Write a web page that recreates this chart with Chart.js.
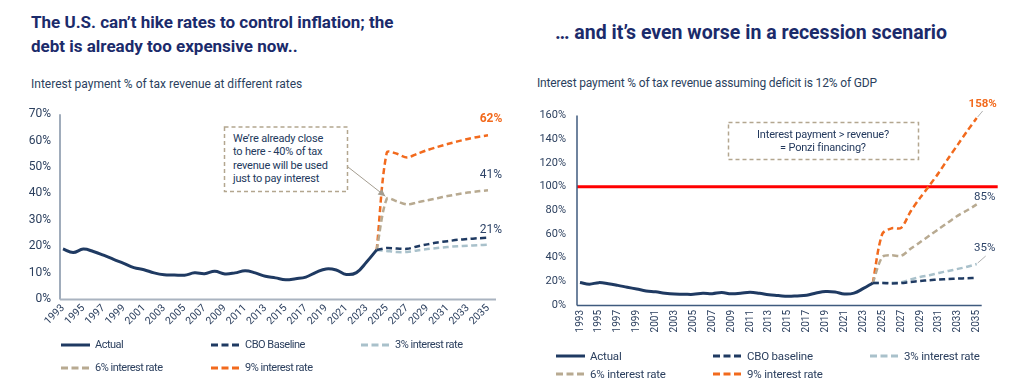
<!DOCTYPE html>
<html><head><meta charset="utf-8">
<script src="https://cdn.jsdelivr.net/npm/chart.js@4.4.0/dist/chart.umd.min.js"></script>
<style>
body{margin:0;background:#fff;}
#page{position:relative;width:1024px;height:389px;overflow:hidden;font-family:Roboto,sans-serif;color:#2b3f5e;}
.abs{position:absolute;white-space:nowrap;}
.title{font-weight:700;font-size:17px;line-height:24px;color:#1b2b6b;}
.sub{font-size:12px;line-height:14px;letter-spacing:0px;color:#2b3f5e;}
.note{font-size:11px;line-height:13.4px;letter-spacing:-0.2px;color:#23395d;}
.leg{font-size:11px;line-height:12px;letter-spacing:-0.5px;color:#2b3f5e;display:flex;align-items:center;}
.leg2{font-size:11.5px;letter-spacing:-0.2px;}
.leg svg{margin-right:4px;}
canvas{position:absolute;}
</style></head>
<body><div id="page">
<div class="abs title" style="left:31px;top:10px;">The U.S. can’t hike rates to control inflation; the<br>debt is already too expensive now..</div>
<div class="abs title" style="left:555px;top:21px;font-size:19.5px;">… and it’s even worse in a recession scenario</div>
<div class="abs sub" style="left:31px;top:77px;">Interest payment % of tax revenue at different rates</div>
<div class="abs sub" style="left:537px;top:76px;letter-spacing:-0.15px;">Interest payment % of tax revenue assuming deficit is 12% of GDP</div>

<canvas id="c1" width="520" height="245" style="left:0;top:95px;width:520px;height:245px"></canvas>
<canvas id="c2" width="504" height="250" style="left:520px;top:95px;width:504px;height:250px"></canvas>

<svg class="abs" width="1024" height="389" style="left:0;top:0;pointer-events:none">
  <rect x="224.5" y="127" width="123" height="64.5" fill="#fff" stroke="#b3a68f" stroke-width="1.5" stroke-dasharray="4 3"/>
  <rect x="728.5" y="122.5" width="190" height="37" fill="#fff" stroke="#b3a68f" stroke-width="1.5" stroke-dasharray="4 3"/>
</svg>
<div class="abs note" style="left:233px;top:132px;">We’re already close<br>to here - 40% of tax<br>revenue will be used<br>just to pay interest</div>
<div class="abs note" style="left:728px;top:128px;width:190px;text-align:center;">Interest payment &gt; revenue?<br>= Ponzi financing?</div>
<div id="leg1"></div><div id="leg2"></div>
</div>
<script>
const years = ['1993','1994','1995','1996','1997','1998','1999','2000','2001','2002','2003','2004','2005','2006','2007','2008','2009','2010','2011','2012','2013','2014','2015','2016','2017','2018','2019','2020','2021','2022','2023','2024','2025','2026','2027','2028','2029','2030','2031','2032','2033','2034','2035'];
// Actual: 1993-2024
const actual = [19.0,17.6,18.9,18.0,16.6,15.0,13.5,11.9,11.1,9.9,9.2,9.1,9.0,9.9,9.6,10.5,9.5,9.9,10.7,9.9,8.6,8.0,7.3,7.7,8.3,10.1,11.4,11.0,9.3,10.0,14.0,18.6];
// Projections: 2024-2035 (left chart)
const cboLeft   = [18.6,19.3,19.1,19.0,19.9,20.7,21.4,21.9,22.4,22.7,23.0,23.2];
const rate3Left = [18.6,18.2,17.8,17.8,18.4,18.9,19.3,19.7,20.0,20.2,20.4,20.6];
const rate6Left = [18.6,38.0,37.0,35.8,36.6,37.4,38.2,39.0,39.7,40.3,40.8,41.2];
const rate9Left = [18.6,55.5,55.0,53.6,55.0,56.4,57.6,58.7,59.7,60.6,61.4,62.0];
// Projections: 2024-2035 (right chart, recession)
const cboRight   = [18.6,18.5,18.2,18.5,19.5,20.3,21.0,21.5,22.0,22.3,22.6,22.8];
const rate3Right = [18.6,18.7,18.8,19.3,21.5,23.6,25.2,27.1,28.8,30.5,32.3,34.6];
const rate6Right = [18.6,40.5,42.0,41.5,47.5,53.0,58.7,64.3,69.9,75.5,80.0,85.0];
const rate9Right = [18.6,60.0,64.8,65.2,79.0,90.5,101.0,112.0,124.0,135.5,147.0,158.0];
const yTicksLeft = [0,10,20,30,40,50,60,70];
const yTicksRight = [0,20,40,60,80,100,120,140,160];
const revenueLine = 100;

const NAVY='#1f3a62', LIGHT='#a9c1cb', BEIGE='#b8aa91', ORANGE='#f26a1d', TXT='#2b3f5e';
const projStart = years.indexOf('2024');
function full(arr){const o=new Array(years.length).fill(null);arr.forEach((v,i)=>o[projStart+i]=v);return o;}
function actualFull(){const o=new Array(years.length).fill(null);actual.forEach((v,i)=>o[i]=v);return o;}

function makeSets(labels, cbo, r3, r6, r9){
  return [
    {label:labels[0],data:actualFull(),borderColor:NAVY,borderWidth:3,tension:0.4},
    {label:labels[1],data:full(cbo),borderColor:NAVY,borderWidth:2.5,borderDash:[6,3.5],tension:0.3},
    {label:labels[2],data:full(r3),borderColor:LIGHT,borderWidth:2.5,borderDash:[6,3.5],tension:0.3},
    {label:labels[3],data:full(r6),borderColor:BEIGE,borderWidth:2.5,borderDash:[6,3.5],tension:0.3},
    {label:labels[4],data:full(r9),borderColor:ORANGE,borderWidth:2.5,borderDash:[6,3.5],tension:0.3}
  ];
}

Chart.defaults.font.family='Roboto, sans-serif';
Chart.defaults.color=TXT;

const overlay={
  id:'overlay',
  beforeDatasetsDraw(chart,args,o){
    const {ctx,chartArea:a,scales:{y}}=chart;
    ctx.save();
    if(o.threshold!=null){
      const py=y.getPixelForValue(o.threshold);
      ctx.strokeStyle='#ff0000';ctx.lineWidth=3;
      ctx.beginPath();ctx.moveTo(a.left-3,py);ctx.lineTo(a.right+o.thresholdExtra,py);ctx.stroke();
    }
    ctx.lineWidth=1.5;ctx.strokeStyle=o.yAxisColor;
    ctx.beginPath();ctx.moveTo(a.left-3,a.top);ctx.lineTo(a.left-3,a.bottom+0.5);ctx.stroke();
    ctx.lineWidth=o.xAxisWidth;ctx.strokeStyle=o.xAxisColor;
    ctx.beginPath();ctx.moveTo(a.left-3,a.bottom+0.5);ctx.lineTo(a.right+o.xAxisExtra,a.bottom+0.5);ctx.stroke();
    ctx.restore();
  },
  afterDatasetsDraw(chart,args,o){
    const {ctx}=chart;
    ctx.save();
    (o.labels||[]).forEach(s=>{
      const meta=chart.getDatasetMeta(s.ds);
      const data=chart.data.datasets[s.ds].data;
      const last=data.length-1;
      const pt=meta.data[last];
      const txt=Math.round(data[last])+'%';
      if(s.leader){
        ctx.strokeStyle='#b0b0b0';ctx.lineWidth=1;
        ctx.beginPath();ctx.moveTo(pt.x+s.leader[0],pt.y+s.leader[1]);ctx.lineTo(pt.x+1,pt.y-1);ctx.stroke();
      }
      ctx.font=(s.bold?'700 ':'400 ')+s.size+'px Roboto, sans-serif';
      ctx.fillStyle=s.color;ctx.textAlign='center';ctx.textBaseline='middle';
      ctx.fillText(txt,pt.x+s.dx,pt.y+s.dy);
    });
    if(o.arrow){
      const pt=chart.getDatasetMeta(o.arrow.ds).data[o.arrow.idx];
      const ex=pt.x-1.5, ey=pt.y-2.5, sx=o.arrow.from[0], sy=o.arrow.from[1];
      ctx.strokeStyle='#a49d90';ctx.fillStyle='#a49d90';ctx.lineWidth=1;
      ctx.beginPath();ctx.moveTo(sx,sy);ctx.lineTo(ex,ey);ctx.stroke();
      const ang=Math.atan2(ey-sy,ex-sx), L=7, W=3.5;
      ctx.beginPath();ctx.moveTo(ex,ey);
      ctx.lineTo(ex-L*Math.cos(ang)+W*Math.sin(ang),ey-L*Math.sin(ang)-W*Math.cos(ang));
      ctx.lineTo(ex-L*Math.cos(ang)-W*Math.sin(ang),ey-L*Math.sin(ang)+W*Math.cos(ang));
      ctx.closePath();ctx.fill();
    }
    ctx.restore();
  }
};

function baseOptions(cfg){
  return {
    responsive:false,animation:false,devicePixelRatio:1,
    layout:{padding:cfg.padding},
    elements:{point:{radius:0,hoverRadius:0},line:{fill:false,borderCapStyle:'butt'}},
    plugins:{legend:{display:false},tooltip:{enabled:false},overlay:cfg.overlay},
    scales:{
      x:{type:'category',offset:false,
        grid:{display:false,drawTicks:false},border:{display:false},
        ticks:{autoSkip:false,maxRotation:cfg.rot,minRotation:cfg.rot,padding:cfg.xPad,
          font:{size:cfg.xFont},color:TXT,
          callback:(v,i)=> i%2===0 ? years[i] : ''},
        afterFit:s=>{s.height=cfg.xH;}
      },
      y:{min:0,max:cfg.yMax,
        grid:{display:false,drawTicks:false},border:{display:false},
        afterBuildTicks:s=>{s.ticks=cfg.yTicks.map(v=>({value:v}));},
        ticks:{padding:cfg.yPad,font:{size:cfg.yFont},color:TXT,callback:v=>v+'%'},
        afterFit:s=>{s.width=cfg.yW;}
      }
    }
  };
}

const names1=['Actual','CBO Baseline','3% interest rate','6% interest rate','9% interest rate'];
const names2=['Actual','CBO baseline','3% interest rate','6% interest rate','9% interest rate'];

new Chart(document.getElementById('c1'),{
  type:'line',
  data:{labels:years,datasets:makeSets(names1,cboLeft,rate3Left,rate6Left,rate9Left)},
  options:baseOptions({padding:{left:0,right:32,top:12,bottom:0},rot:45,xPad:3,xFont:10.5,xH:41,
    yMax:70,yTicks:yTicksLeft,yPad:12,yFont:12,yW:63,
    overlay:{yAxisColor:'#8190a4',xAxisColor:'#a9b3c0',xAxisWidth:2,xAxisExtra:8,
      labels:[{ds:4,dx:3,dy:-16,color:ORANGE,bold:true,size:12},
              {ds:3,dx:3,dy:-15,color:'#2e4468',bold:false,size:12},
              {ds:2,dx:3,dy:-15,color:'#2e4468',bold:false,size:12}],
      arrow:{ds:3,idx:years.indexOf('2025'),from:[348,72]}}}),
  plugins:[overlay]
});

new Chart(document.getElementById('c2'),{
  type:'line',
  data:{labels:years,datasets:makeSets(names2,cboRight,rate3Right,rate6Right,rate9Right)},
  options:baseOptions({padding:{left:0,right:47.3,top:19.3,bottom:0},rot:90,xPad:5,xFont:10,xH:40,
    yMax:160,yTicks:yTicksRight,yPad:14,yFont:11,yW:60,
    overlay:{yAxisColor:'#3f5a7e',xAxisColor:'#3f5a7e',xAxisWidth:1.5,xAxisExtra:5,threshold:revenueLine,thresholdExtra:21,
      labels:[{ds:4,dx:6,dy:-14,color:ORANGE,bold:true,size:11.5,leader:[6,-7]},
              {ds:3,dx:8,dy:-7.5,color:'#2e4468',bold:false,size:11.5},
              {ds:2,dx:8,dy:-16,color:'#2e4468',bold:false,size:11.5,leader:[9,-8]}]}}),
  plugins:[overlay]
});

function legend(id, names, cols, rows, textOff, extraCls){
  const colors=[NAVY,NAVY,LIGHT,BEIGE,ORANGE];
  const host=document.getElementById(id);
  names.forEach((n,i)=>{
    const c=i<3?cols[i]:cols[i-3], r=i<3?rows[0]:rows[1];
    const d=document.createElement('div');
    d.className='abs leg '+extraCls;
    d.style.left=c+'px';d.style.top=(r-6)+'px';
    const dash=i===0?'':'stroke-dasharray="7 3.5"';
    d.innerHTML=`<svg width="${textOff-4}" height="6"><line x1="0" y1="3" x2="${textOff-5}" y2="3" stroke="${colors[i]}" stroke-width="3" ${dash}/></svg><span>${n}</span>`;
    host.appendChild(d);
  });
}
legend('leg1',names1,[61,211,361],[345,368],34,'');
legend('leg2',names2,[556,713,870],[355.5,374],34,'leg2');
</script>
</body></html>
